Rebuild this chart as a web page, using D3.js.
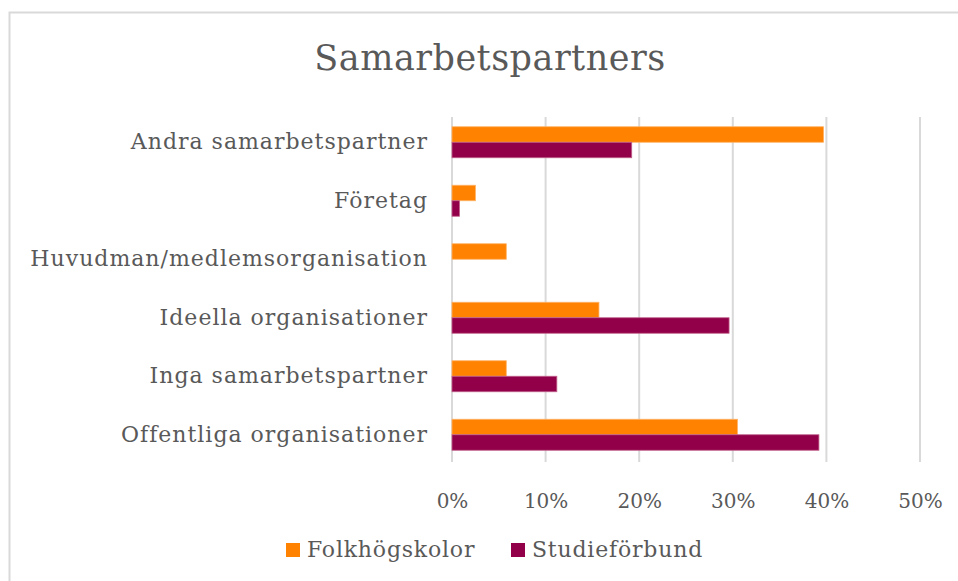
<!DOCTYPE html>
<html>
<head>
<meta charset="utf-8">
<script src="https://cdn.jsdelivr.net/npm/d3@7"></script>
<style>
    body { margin: 0; background: #fff; }
    text { font-family: "DejaVu Serif", serif; fill: #595959; }
</style>
</head>
<body>
<div id="chart"></div>
<script>
var categories = ["Andra samarbetspartner", "Företag", "Huvudman/medlemsorganisation",
    "Ideella organisationer", "Inga samarbetspartner", "Offentliga organisationer"];
var folkhogskolor = [39.7, 2.5, 5.8, 15.7, 5.8, 30.5];
var studieforbund = [19.2, 0.8, 0, 29.6, 11.2, 39.2];
var seriesNames = ["Folkhögskolor", "Studieförbund"];
var seriesColors = ["#ff8200", "#910048"];
var seriesStroke = ["#ffb266", "#c0608c"];
var tickValues = [0, 10, 20, 30, 40, 50];
var title = "Samarbetspartners";

var width = 958;
var height = 581;
var margin = {top: 113, right: 38, bottom: 117, left: 452};
var chartWidth = width - margin.left - margin.right;
var chartHeight = height - margin.top - margin.bottom;

var svg = d3.select("#chart").append("svg")
    .attr("width", width)
    .attr("height", height);

// outer frame (cut off at right and bottom)
svg.append("rect")
    .attr("x", 9.5)
    .attr("y", 12.5)
    .attr("width", 980)
    .attr("height", 600)
    .style("fill", "none")
    .style("stroke", "#d9d9d9")
    .style("stroke-width", 2);

svg.append("text")
    .attr("x", 490)
    .attr("y", 70)
    .attr("text-anchor", "middle")
    .style("font-size", "35px")
    .style("letter-spacing", "0.5px")
    .text(title);

var xScale = d3.scaleLinear()
    .domain([0, 50])
    .range([0, chartWidth]);

var yScale = d3.scaleBand()
    .domain(categories)
    .range([0, chartHeight])
    .paddingInner(0.47)
    .paddingOuter(0.235);

var inner = d3.scaleBand()
    .domain(seriesNames)
    .range([0, yScale.bandwidth()]);

var overallG = svg.append("g")
    .attr("transform", "translate(" + margin.left + "," + margin.top + ")");

// gridlines
overallG.append("g")
    .attr("class", "grid")
    .selectAll("line")
    .data(tickValues)
    .enter()
    .append("line")
    .attr("x1", function(d){ return xScale(d); })
    .attr("x2", function(d){ return xScale(d); })
    .attr("y1", 4)
    .attr("y2", chartHeight - 2)
    .style("stroke", "#d9d9d9")
    .style("stroke-width", 2);

var series = [folkhogskolor, studieforbund];

series.forEach(function(values, s){
    overallG.append("g")
        .selectAll("rect")
        .data(values)
        .enter()
        .append("rect")
        .attr("x", xScale(0))
        .attr("y", function(d, i){ return yScale(categories[i]) + inner(seriesNames[s]); })
        .attr("width", function(d){ return xScale(d) - xScale(0); })
        .attr("height", inner.bandwidth())
        .style("fill", seriesColors[s])
        .style("stroke", seriesStroke[s])
        .style("stroke-width", function(d){ return d > 0 ? 0.8 : 0; });
});

// category axis
var yAxisG = overallG.append("g")
    .call(d3.axisLeft(yScale).tickSize(0).tickPadding(24));
yAxisG.select(".domain").remove();
yAxisG.selectAll("text")
    .style("font-size", "22px")
    .style("letter-spacing", "1px")
    .style("fill", "#595959")
    .style("font-family", "DejaVu Serif, serif");

// value axis
var xAxisG = overallG.append("g")
    .attr("transform", "translate(0," + chartHeight + ")")
    .call(d3.axisBottom(xScale).tickValues(tickValues).tickSize(0).tickPadding(30)
        .tickFormat(function(d){ return d + "%"; }));
xAxisG.select(".domain").remove();
xAxisG.selectAll("text")
    .style("font-size", "20px")
    .style("fill", "#595959")
    .style("font-family", "DejaVu Serif, serif");

// legend
var legend = svg.append("g")
    .attr("transform", "translate(286,543)");
var legendX = [0, 225];
seriesNames.forEach(function(name, i){
    var item = legend.append("g")
        .attr("transform", "translate(" + legendX[i] + ",0)");
    item.append("rect")
        .attr("width", 14)
        .attr("height", 14)
        .style("fill", seriesColors[i]);
    item.append("text")
        .attr("x", 21)
        .attr("y", 14)
        .style("font-size", "22px")
        .style("letter-spacing", "0.8px")
        .text(name);
});
</script>
</body>
</html>
